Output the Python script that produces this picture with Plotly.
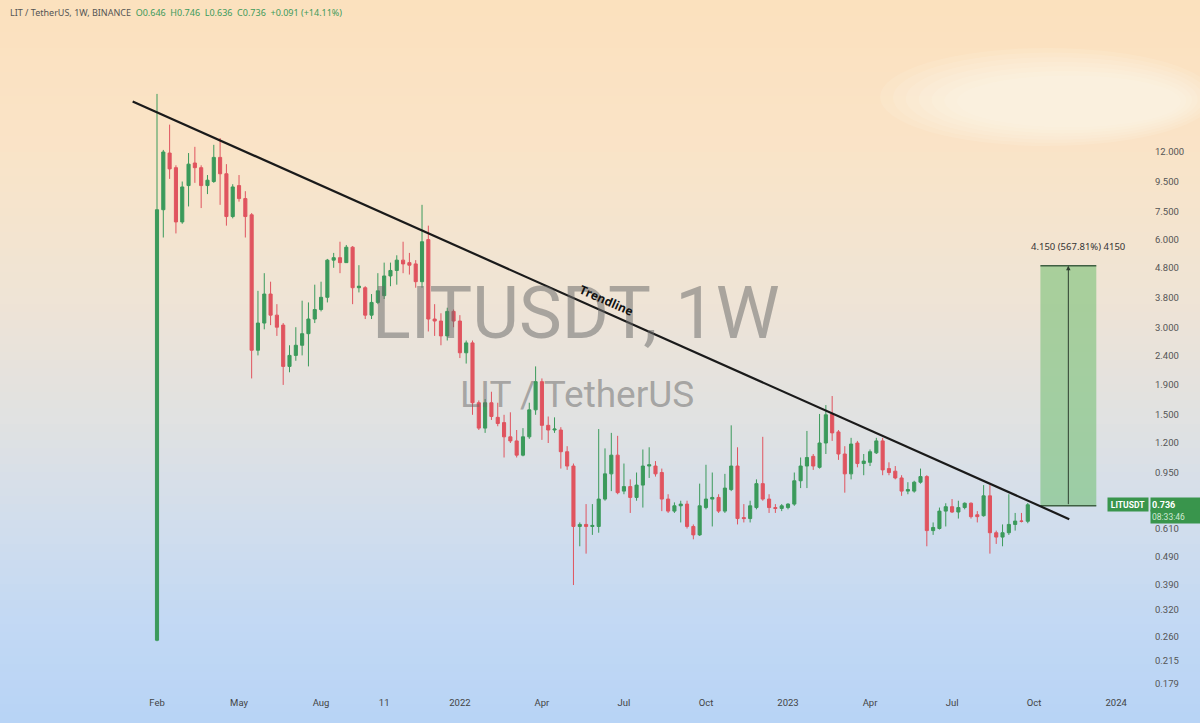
import numpy as np
import pandas as pd
import plotly.graph_objects as go

# weekly candles, LIT/USDT (Binance)
week_start = "2021-02-01"
opens = [0.252, 7.6, 11.9, 10.6, 6.9, 9.2, 11.0, 10.6, 9.2, 9.5, 11.5, 10.1, 7.2, 9.2, 8.3, 7.3,
         2.5, 3.1, 3.9, 3.3, 3.05, 2.2, 2.4, 2.6, 2.85, 3.2, 3.45, 3.8, 5.1, 5.2, 5.0, 5.65,
         4.1, 4.1, 3.3, 3.65, 3.85, 4.5, 4.7, 5.1, 5.0, 4.95, 4.3, 6.0, 3.2, 3.15, 2.8, 3.4,
         3.15, 2.45, 2.65, 1.65, 1.35, 1.65, 1.47, 1.41, 1.26, 1.22, 1.09, 1.26, 1.56, 1.95,
         1.38, 1.33, 1.33, 1.12, 1.0, 0.62, 0.63, 0.62, 0.62, 0.77, 0.94, 1.09, 0.82, 0.85,
         0.78, 0.86, 1.0, 1.0, 0.95, 0.77, 0.70, 0.73, 0.74, 0.62, 0.58, 0.72, 0.77, 0.78,
         0.70, 0.83, 1.0, 0.665, 0.66, 0.72, 0.87, 0.77, 0.72, 0.715, 0.72, 0.74, 0.89, 1.0,
         1.08, 0.99, 1.2, 1.51, 1.31, 1.10, 0.94, 1.2, 1.02, 1.03, 1.11, 1.22, 0.98, 0.96,
         0.91, 0.82, 0.82, 0.88, 0.92, 0.60, 0.61, 0.70, 0.725, 0.695, 0.72, 0.745, 0.68, 0.675,
         0.79, 0.59, 0.57, 0.59, 0.63, 0.647, 0.646]
highs = [19.0, 12.2, 14.9, 10.8, 9.5, 11.9, 12.5, 10.8, 10.0, 12.7, 13.4, 10.9, 9.3, 10.0, 8.8, 7.4,
         4.0, 4.6, 4.3, 3.6, 3.1, 2.6, 3.0, 3.7, 3.65, 4.2, 4.3, 5.15, 5.4, 5.9, 5.75, 5.7,
         4.9, 4.15, 3.9, 4.6, 5.0, 5.0, 5.3, 5.9, 5.4, 5.1, 7.9, 6.7, 3.6, 3.35, 3.5, 3.45,
         3.3, 2.7, 2.7, 1.68, 1.7, 1.8, 1.65, 1.5, 1.53, 1.33, 1.35, 1.65, 2.2, 2.0,
         1.48, 1.47, 1.36, 1.17, 1.02, 0.64, 0.74, 0.74, 1.34, 1.15, 1.30, 1.27, 1.02, 0.90,
         0.95, 1.14, 1.16, 1.04, 0.98, 0.80, 0.75, 0.76, 0.76, 0.63, 0.87, 1.01, 0.95, 0.80,
         0.94, 1.38, 1.16, 0.74, 0.76, 0.90, 1.26, 0.80, 0.74, 0.74, 0.745, 0.95, 1.07, 1.32,
         1.10, 1.51, 1.62, 1.74, 1.33, 1.17, 1.25, 1.22, 1.10, 1.14, 1.25, 1.25, 1.03, 1.0,
         0.93, 0.88, 0.89, 0.98, 0.93, 0.64, 0.72, 0.745, 0.77, 0.76, 0.75, 0.75, 0.70, 0.86,
         0.86, 0.60, 0.63, 0.80, 0.69, 0.69, 0.746]
lows = [0.25, 6.1, 9.7, 6.3, 6.8, 7.8, 9.4, 7.7, 8.6, 9.4, 7.9, 6.7, 7.1, 8.1, 6.1, 2.0,
        2.4, 2.95, 3.05, 2.8, 1.9, 2.1, 2.3, 2.4, 2.2, 3.1, 3.4, 3.65, 4.8, 4.6, 5.0, 3.6,
        3.95, 3.2, 3.2, 3.6, 3.75, 4.15, 4.2, 4.6, 4.55, 4.1, 4.1, 2.9, 2.8, 2.6, 2.7, 3.0,
        2.35, 2.25, 1.5, 1.33, 1.3, 1.44, 1.37, 1.07, 1.2, 1.07, 1.08, 1.24, 1.5, 1.23,
        1.2, 1.3, 0.98, 0.97, 0.39, 0.53, 0.50, 0.58, 0.59, 0.76, 0.82, 0.80, 0.80, 0.69,
        0.76, 0.72, 0.91, 0.92, 0.70, 0.69, 0.69, 0.64, 0.61, 0.56, 0.575, 0.71, 0.62, 0.69,
        0.69, 0.82, 0.63, 0.64, 0.64, 0.71, 0.76, 0.69, 0.69, 0.70, 0.71, 0.73, 0.84, 0.84,
        0.97, 0.98, 1.1, 1.22, 1.05, 0.81, 0.90, 0.99, 0.93, 1.0, 1.10, 0.93, 0.93, 0.90,
        0.79, 0.80, 0.81, 0.87, 0.53, 0.58, 0.605, 0.62, 0.69, 0.66, 0.71, 0.66, 0.64, 0.67,
        0.50, 0.54, 0.53, 0.58, 0.60, 0.64, 0.636]
closes = [7.6, 12.0, 10.5, 6.9, 9.1, 10.9, 10.6, 9.2, 9.6, 11.5, 10.1, 7.2, 9.1, 8.3, 7.2, 2.5,
          3.1, 3.9, 3.3, 3.0, 2.2, 2.4, 2.6, 2.85, 3.2, 3.45, 3.8, 5.1, 5.2, 5.0, 5.65, 4.1,
          4.15, 3.3, 3.65, 4.0, 4.5, 4.7, 5.1, 4.95, 4.9, 4.3, 5.9, 3.2, 3.15, 2.8, 3.4, 3.15,
          2.45, 2.65, 1.65, 1.35, 1.65, 1.48, 1.4, 1.26, 1.22, 1.09, 1.26, 1.56, 1.95, 1.38,
          1.33, 1.34, 1.12, 1.0, 0.62, 0.63, 0.62, 0.625, 0.77, 0.94, 1.09, 0.81, 0.85, 0.78,
          0.86, 1.0, 1.01, 0.94, 0.77, 0.70, 0.73, 0.74, 0.62, 0.58, 0.73, 0.77, 0.78, 0.70,
          0.84, 1.0, 0.66, 0.66, 0.73, 0.87, 0.77, 0.72, 0.715, 0.73, 0.74, 0.89, 1.0, 1.07,
          1.0, 1.2, 1.5, 1.30, 1.10, 0.94, 1.19, 1.02, 1.04, 1.12, 1.22, 0.97, 0.95, 0.91,
          0.82, 0.83, 0.88, 0.92, 0.60, 0.615, 0.70, 0.725, 0.695, 0.72, 0.745, 0.67, 0.67, 0.79,
          0.59, 0.57, 0.59, 0.63, 0.647, 0.646, 0.736]
dates = pd.date_range(week_start, periods=len(closes), freq="W-MON")

# price scale and time scale labels
price_ticks = [12.0, 9.5, 7.5, 6.0, 4.8, 3.8, 3.0, 2.4, 1.9, 1.5, 1.2, 0.95, 0.61, 0.49, 0.39, 0.32, 0.26, 0.215, 0.179]
price_labels = ["%.3f" % v for v in price_ticks]
time_ticks = ["2021-02-01", "2021-05-03", "2021-08-02", "2021-10-11", "2022-01-03", "2022-04-04", "2022-07-04",
              "2022-10-03", "2023-01-02", "2023-04-03", "2023-07-03", "2023-10-02", "2024-01-01"]
time_labels = ["Feb", "May", "Aug", "11", "2022", "Apr", "Jul", "Oct", "2023", "Apr", "Jul", "Oct", "2024"]

# drawings
trend_x = ["2021-01-05", "2023-11-10"]
trend_y = [17.9, 0.657]
target_x = ["2023-10-09", "2023-12-10"]
target_low, target_high = 0.7309, 4.8809
target_label = "4.150 (567.81%) 4150"

GREEN = "#3b9a5b"
RED = "#e0545f"
TEXT = "#555555"

W, H = 1200, 723
ML, MR, MT, MB = 0, 50, 0, 28
PW, PH = W - ML - MR, H - MT - MB

fig = go.Figure()

fig.add_trace(go.Candlestick(
    x=dates, open=opens, high=highs, low=lows, close=closes,
    increasing=dict(line=dict(color=GREEN, width=1), fillcolor=GREEN),
    decreasing=dict(line=dict(color=RED, width=1), fillcolor=RED),
    whiskerwidth=0, hoverinfo="skip", showlegend=False,
))

# target box
fig.add_trace(go.Scatter(
    x=[target_x[0], target_x[1], target_x[1], target_x[0], target_x[0]],
    y=[target_low, target_low, target_high, target_high, target_low],
    fill="toself", fillcolor="rgba(110,190,110,0.55)", line=dict(width=0),
    mode="lines", hoverinfo="skip", showlegend=False,
))
for yv in (target_low, target_high):
    fig.add_trace(go.Scatter(x=target_x, y=[yv, yv], mode="lines",
                             line=dict(color="#3f5f42", width=1.5),
                             hoverinfo="skip", showlegend=False))

# trendline
fig.add_trace(go.Scatter(x=trend_x, y=trend_y, mode="lines",
                         line=dict(color="#1a1a1a", width=2.2),
                         hoverinfo="skip", showlegend=False))

# background gradient (peach -> light blue)
stops = [(0, (252, 225, 190)), (150, (250, 228, 200)), (300, (239, 228, 214)),
         (420, (225, 226, 226)), (520, (210, 222, 237)), (620, (195, 217, 244)), (723, (184, 212, 246))]
sy = [s[0] for s in stops]
shapes = []
step = 8
for y0 in range(0, H, step):
    yc = y0 + step / 2
    rgb = [int(np.interp(yc, sy, [s[1][k] for s in stops])) for k in range(3)]
    shapes.append(dict(type="rect", xref="paper", yref="paper", layer="below",
                       x0=-ML / PW, x1=(W - ML) / PW,
                       y0=1 - (y0 + step + 1 - MT) / PH, y1=1 - (y0 - MT) / PH,
                       fillcolor="rgb(%d,%d,%d)" % tuple(rgb), line=dict(width=0)))
# soft whitish smudge top right (nested faint ellipses)
for k in range(7):
    shrink = k / 7
    cx0, cx1 = 880 + 90 * shrink, 1215 - 40 * shrink
    cy0, cy1 = 48 + 32 * shrink, 146 - 22 * shrink
    shapes.append(dict(type="circle", xref="paper", yref="paper", layer="below",
                       x0=cx0 / PW, x1=cx1 / PW, y0=1 - cy1 / PH, y1=1 - cy0 / PH,
                       fillcolor="rgba(255,251,244,0.11)", line=dict(width=0)))

mid_x = pd.Timestamp(target_x[0]) + (pd.Timestamp(target_x[1]) - pd.Timestamp(target_x[0])) / 2

annotations = [
    dict(text="LITUSDT, 1W", xref="paper", yref="paper", x=576 / PW, y=1 - 313 / PH,
         xanchor="center", yanchor="middle", showarrow=False,
         font=dict(family="Roboto", size=72, color="rgba(105,105,105,0.52)")),
    dict(text="LIT / TetherUS", xref="paper", yref="paper", x=577 / PW, y=1 - 394 / PH,
         xanchor="center", yanchor="middle", showarrow=False,
         font=dict(family="Roboto", size=37, color="rgba(105,105,105,0.52)")),
    dict(text="<b>Trendline</b>", x="2022-06-15", y=np.log10(3.72), showarrow=False, textangle=24,
         xanchor="center", yanchor="middle", font=dict(family="Open Sans", size=12, color="#111111")),
    dict(x=mid_x, y=np.log10(target_high), ax=mid_x, ay=np.log10(target_low), axref="x", ayref="y",
         showarrow=True, arrowhead=2, arrowsize=0.9, arrowwidth=1, arrowcolor="#2e3e30", text=""),
    dict(text=target_label, x=mid_x, y=np.log10(target_high), yshift=19, xshift=10, showarrow=False,
         xanchor="center", yanchor="middle", font=dict(family="Noto Sans", size=9.5, color="#333333")),
    dict(text="LIT / TetherUS, 1W, BINANCE  <span style='color:%s'>O0.646  H0.746  L0.636  C0.736  +0.091 (+14.11%%)</span>" % GREEN,
         xref="paper", yref="paper", x=8 / PW, y=1 - 13 / PH, xanchor="left", yanchor="middle", showarrow=False,
         font=dict(family="Noto Sans", size=9, color=TEXT)),
    dict(text="<b>LITUSDT</b>", xref="paper", x=1128 / PW, y=np.log10(closes[-1]), showarrow=False,
         xanchor="center", yanchor="middle",
         bgcolor="#39954c", width=38, height=11, font=dict(family="Roboto", size=8.5, color="white")),
    dict(text="<b>0.736</b>", xref="paper", x=1.0, xanchor="left", yanchor="middle", y=np.log10(closes[-1]), showarrow=False,
         bgcolor="#39954c", width=48, height=11, align="left", font=dict(family="Roboto", size=9, color="white")),
    dict(text="08:33:46", xref="paper", x=1.0, xanchor="left", yanchor="middle", y=np.log10(closes[-1]), yshift=-12, showarrow=False,
         bgcolor="#39954c", width=48, height=11, align="left", font=dict(family="Roboto", size=8.5, color="#cfe9d3")),
]

# axis ranges in pixel terms: 12.0 sits at y=152, one decade = 291 px, one week = 6.31 px
y_top = np.log10(12.0) + (152 - MT) / 291
y_bot = np.log10(12.0) - (MT + PH - 152) / 291
day_px = 6.31 / 7
x_left = pd.Timestamp(week_start) - pd.Timedelta(days=(157 - ML) / day_px)
x_right = pd.Timestamp(week_start) + pd.Timedelta(days=(ML + PW - 157) / day_px)

fig.update_layout(
    width=W, height=H,
    margin=dict(l=ML, r=MR, t=MT, b=MB, autoexpand=False),
    paper_bgcolor="#fde2c0", plot_bgcolor="rgba(0,0,0,0)",
    shapes=shapes, annotations=annotations,
    showlegend=False, hovermode=False,
    xaxis=dict(type="date", range=[x_left, x_right], rangeslider=dict(visible=False),
               tickvals=time_ticks, ticktext=time_labels, showgrid=False, zeroline=False,
               showline=False, ticks="", tickfont=dict(family="Roboto", size=9.5, color="#444444")),
    yaxis=dict(type="log", range=[y_bot, y_top], side="right", tickvals=price_ticks, ticktext=price_labels,
               showgrid=False, zeroline=False, showline=False, ticks="", ticklabelstandoff=4,
               tickfont=dict(family="Roboto", size=9.5, color=TEXT)),
)

fig.write_html("out.html", config={"displayModeBar": False},
               post_script="document.body.style.margin='0';document.body.style.padding='0';")
